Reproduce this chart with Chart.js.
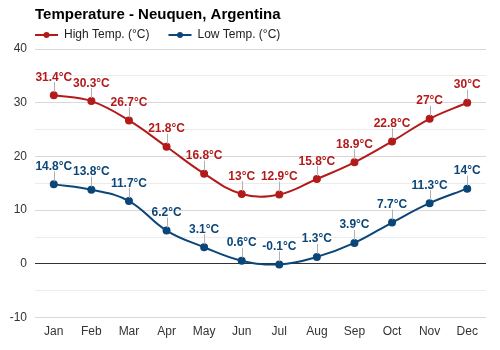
<!DOCTYPE html>
<html><head><meta charset="utf-8">
<script src="https://cdn.jsdelivr.net/npm/chart.js@4"></script>
<style>html,body{margin:0;padding:0;background:#fff}#wrap{width:500px;height:350px}</style>
</head><body><div id="wrap"><canvas id="c" width="500" height="350"></canvas></div>
<script>
const months = ["Jan","Feb","Mar","Apr","May","Jun","Jul","Aug","Sep","Oct","Nov","Dec"];
const highTemps = [31.4,30.3,26.7,21.8,16.8,13,12.9,15.8,18.9,22.8,27,30];
const lowTemps = [14.8,13.8,11.7,6.2,3.1,0.6,-0.1,1.3,3.9,7.7,11.3,14];
const yTicks = [-10,0,10,20,30,40];
const titleText = 'Temperature - Neuquen, Argentina';
const highColor = "#b31b1b";
const lowColor = "#0b4679";
const FONT = '"Liberation Sans", Arial, sans-serif';

const labelPlugin = {
  id: 'vlabels',
  afterDatasetsDraw(chart){
    const ctx = chart.ctx;
    chart.data.datasets.forEach((ds, i) => {
      const meta = chart.getDatasetMeta(i);
      meta.data.forEach((pt, j) => {
        const x = pt.x, y = pt.y;
        ctx.save();
        ctx.strokeStyle = '#b0b0b0'; ctx.lineWidth = 1;
        ctx.beginPath(); ctx.moveTo(Math.round(x)+0.5, y-3); ctx.lineTo(Math.round(x)+0.5, y-13); ctx.stroke();
        ctx.fillStyle = ds.borderColor;
        ctx.font = 'bold 12px ' + FONT;
        ctx.textAlign = 'center'; ctx.textBaseline = 'alphabetic';
        ctx.fillText(ds.data[j] + '°C', x, y - 14.5);
        ctx.restore();
      });
    });
  }
};

const headerPlugin = {
  id: 'header',
  afterDraw(chart){
    const ctx = chart.ctx;
    const left = chart.chartArea.left;
    ctx.save();
    ctx.fillStyle = '#000';
    ctx.font = 'bold 15px ' + FONT;
    ctx.textBaseline = 'middle'; ctx.textAlign = 'left';
    ctx.fillText(titleText, left, 15);
    ctx.font = '12px ' + FONT;
    let x = left;
    const ly = 35;
    chart.data.datasets.forEach(ds => {
      ctx.strokeStyle = ds.borderColor; ctx.lineWidth = 2;
      ctx.beginPath(); ctx.moveTo(x, ly); ctx.lineTo(x + 23, ly); ctx.stroke();
      ctx.fillStyle = ds.borderColor;
      ctx.beginPath(); ctx.arc(x + 11.5, ly, 3, 0, Math.PI*2); ctx.fill();
      ctx.fillStyle = '#222';
      ctx.fillText(ds.label, x + 29, ly);
      x += 29 + ctx.measureText(ds.label).width + 19;
    });
    ctx.restore();
  }
};

new Chart(document.getElementById('c'), {
  type: 'line',
  data: {
    labels: months,
    datasets: [
      {label: 'High Temp. (°C)', data: highTemps, borderColor: highColor, backgroundColor: highColor, pointBackgroundColor: highColor, pointBorderColor: highColor, borderWidth: 2, pointRadius: 3, tension: 0.4},
      {label: 'Low Temp. (°C)', data: lowTemps, borderColor: lowColor, backgroundColor: lowColor, pointBackgroundColor: lowColor, pointBorderColor: lowColor, borderWidth: 2, pointRadius: 3, tension: 0.4}
    ]
  },
  options: {
    responsive: false, animation: false, devicePixelRatio: 1,
    layout: {padding: {left: 0, right: 14, top: 49, bottom: 4}},
    plugins: {
      title: {display: false},
      legend: {display: false},
      tooltip: {enabled: false}
    },
    scales: {
      x: {offset: true, grid: {display: false, drawTicks: false}, border: {display: false}, ticks: {color: '#333', padding: 7, font: {family: FONT, size: 12}}},
      y: {min: -10, max: 40, border: {display: false},
        ticks: {stepSize: 5, color: '#333', padding: 8, font: {family: FONT, size: 12}, callback: v => yTicks.includes(v) ? String(v) : ''},
        grid: {color: c => c.tick.value === 0 ? '#333' : (c.tick.value % 10 === 0 ? '#d8d8d8' : '#ececec'), lineWidth: 1, drawTicks: false},
        afterFit(s){ s.width = 35; }
      }
    }
  },
  plugins: [labelPlugin, headerPlugin]
});
</script></body></html>
